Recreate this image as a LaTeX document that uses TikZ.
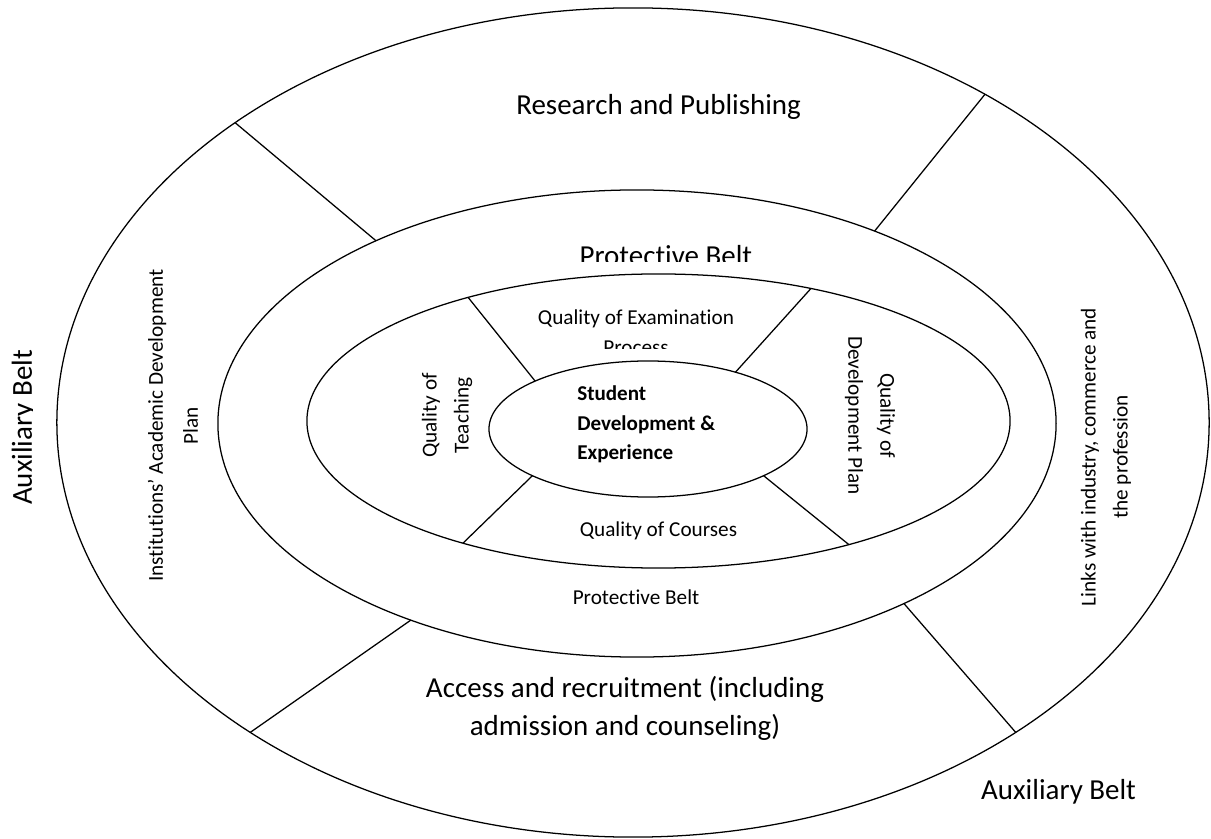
\documentclass[tikz,border=0pt]{standalone}
\usepackage{fontspec}
\setmainfont{Carlito}[Ligatures={TeX,NoCommon}]
\usetikzlibrary{shapes.geometric}

\begin{document}
\begin{tikzpicture}[
  x=0.025cm, y=-0.025cm,
  belt/.style={draw, ellipse, line width=0.9pt, inner sep=0pt, outer sep=0pt},
  spoke/.style={line width=0.9pt},
  big/.style={inner sep=0pt, font=\fontsize{20.6}{27.2}\selectfont},
  lbl/.style={inner sep=0pt, font=\fontsize{15.1}{21.3}\selectfont},
  vlbl/.style={lbl, align=center, font=\fontsize{15.1}{22.8}\selectfont},
]
\useasboundingbox (0,0) rectangle (1211,839);

% belts, outermost first
\node[belt, minimum width=28.8cm, minimum height=20.725cm] (aux) at (633,422.5) {};
\node[belt, minimum width=20.95cm, minimum height=11.675cm] (prot) at (637,423.5) {};
\node[belt, minimum width=17.575cm, minimum height=7.35cm] (qual) at (658.5,421) {};
\node[belt, minimum width=7.95cm, minimum height=3.4cm] (core) at (648,429) {};

% spokes between the belts
\draw[spoke] (aux.143.3) -- (prot.145.1);
\draw[spoke] (aux.43.2) -- (prot.39.8);
\draw[spoke] (aux.219.6) -- (prot.221.7);
\draw[spoke] (aux.321.1) -- (prot.326.7);
\draw[spoke] (qual.147.1) -- (core.157.3);
\draw[spoke] (qual.41.3) -- (core.33.2);
\draw[spoke] (qual.212.5) -- (core.202.8);
\draw[spoke] (qual.327.5) -- (core.338.9);

% auxiliary belt
\node[big, anchor=base] (research) at (658.6,114.3) {Research and Publishing};
\begin{scope}
  \clip (0,300) rectangle (32.5,560);
  \node[big, anchor=base, rotate=90] (auxleft) at (31.8,427.5) {Auxiliary Belt};
\end{scope}
\node[big, anchor=base] (auxright) at (1058.6,799) {Auxiliary Belt};
\node[big, align=center] (access) at (625,708.5) {Access and recruitment (including\\ admission and counseling)};
\node[lbl, rotate=90, align=center, font=\fontsize{15.1}{24.9}\selectfont] (iadp) at (173,425.5) {Institutions' Academic Development\\ Plan};
\node[vlbl, rotate=90] (links) at (1106,457) {Links with industry, commerce and\\ the profession};

% protective belt
\begin{scope}
  \clip (500,200) rectangle (800,262);
  \node[big, anchor=base] (prottop) at (665.8,265.4) {Protective Belt};
\end{scope}
\node[lbl, anchor=base] (protlow) at (636,604) {Protective Belt};

% quality ring
\begin{scope}
  \clip (500,290) rectangle (780,349);
  \node[lbl, align=center] (exam) at (636,332) {Quality of Examination\\ Process};
\end{scope}
\node[vlbl, rotate=90] (teach) at (447,415.5) {Quality of\\ Teaching};
\node[vlbl, rotate=-90] (devplan) at (870,415.5) {Quality of\\ Development Plan};
\node[lbl, anchor=base] (courses) at (658.5,536) {Quality of Courses};

% core
\node[lbl, anchor=west, align=left, font=\bfseries\fontsize{15}{21}\selectfont] (sde) at (577,424.3) {Student\\ Development \&\\ Experience};
\end{tikzpicture}
\end{document}
